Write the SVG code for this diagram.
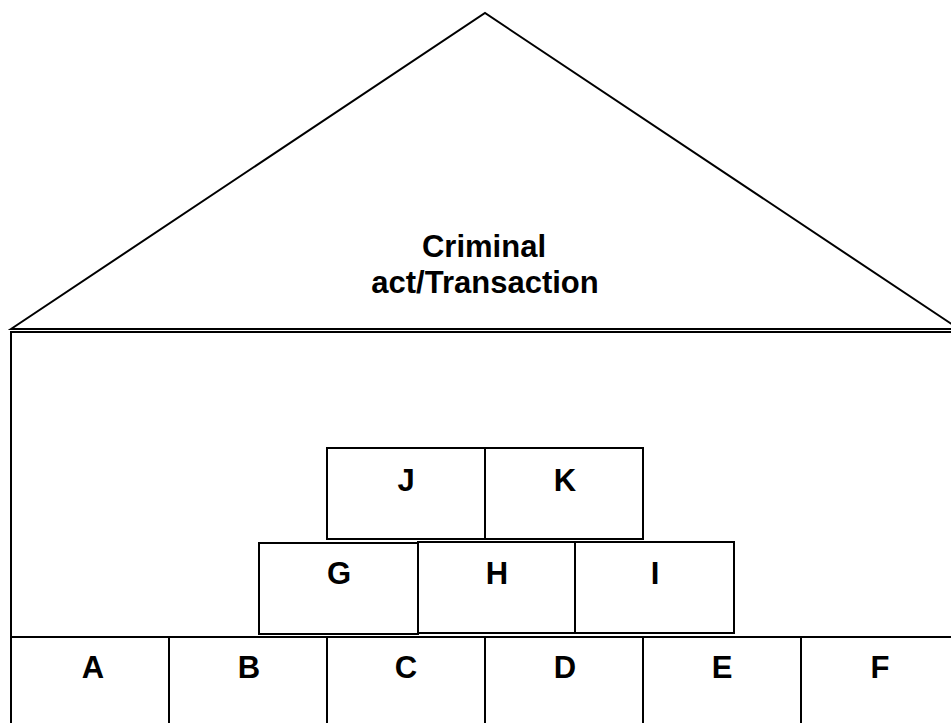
<svg xmlns="http://www.w3.org/2000/svg" width="951" height="723" viewBox="0 0 951 723">
<style>
.ln{fill:none;stroke:#000;stroke-width:2}
.bx{fill:#fff;stroke:#000;stroke-width:2}
.t{font-family:"Liberation Sans",Arial,sans-serif;font-weight:bold;font-size:31px;fill:#000;text-anchor:middle}
</style>
<rect x="0" y="0" width="951" height="723" fill="#fff"/>
<g id="roof">
<polygon class="ln" points="11,329 485,13 959,329"/>
<text class="t" x="484" y="257">Criminal</text>
<text class="t" x="485" y="293">act/Transaction</text>
</g>
<g id="house">
<rect class="ln" x="11" y="332" width="960" height="420"/>
</g>
<g id="connectors"></g>
<g id="J"><rect class="bx" x="327" y="448" width="158" height="91"/><text class="t" x="406" y="491">J</text></g>
<g id="K"><rect class="bx" x="485" y="448" width="158" height="91"/><text class="t" x="565" y="491">K</text></g>
<g id="G"><rect class="bx" x="259" y="543" width="159" height="91"/><text class="t" x="339" y="584">G</text></g>
<g id="H"><rect class="bx" x="418" y="542" width="157" height="91"/><text class="t" x="497" y="584">H</text></g>
<g id="I"><rect class="bx" x="575" y="542" width="159" height="91"/><text class="t" x="655" y="584">I</text></g>
<g id="A"><rect class="bx" x="11" y="637" width="158" height="120"/><text class="t" x="93" y="678">A</text></g>
<g id="B"><rect class="bx" x="169" y="637" width="158" height="120"/><text class="t" x="249" y="678">B</text></g>
<g id="C"><rect class="bx" x="327" y="637" width="158" height="120"/><text class="t" x="406" y="678">C</text></g>
<g id="D"><rect class="bx" x="485" y="637" width="158" height="120"/><text class="t" x="565" y="678">D</text></g>
<g id="E"><rect class="bx" x="643" y="637" width="158" height="120"/><text class="t" x="722" y="678">E</text></g>
<g id="F"><rect class="bx" x="801" y="637" width="158" height="120"/><text class="t" x="880" y="678">F</text></g>
</svg>
